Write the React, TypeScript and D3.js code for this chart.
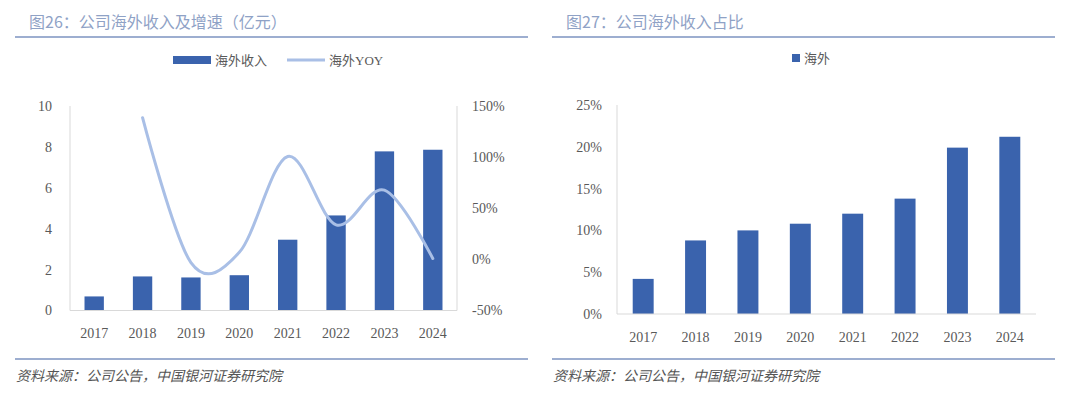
import React from 'react'
import * as d3 from 'd3'

// data
const years = ['2017', '2018', '2019', '2020', '2021', '2022', '2023', '2024']
const overseasRevenue = [0.69, 1.67, 1.62, 1.73, 3.47, 4.66, 7.8, 7.88]
const overseasYoy = [null, 139, -3, 7, 101, 34, 68, 1]
const overseasShare = [4.2, 8.8, 10.0, 10.8, 12.0, 13.8, 19.9, 21.2]
const leftTicks = [0, 2, 4, 6, 8, 10]
const rightTicks = [-50, 0, 50, 100, 150]
const shareTicks = [0, 5, 10, 15, 20, 25]

const BAR = '#3A63AD'
const LINE = '#A9BFE6'
const AXIS = '#D9D9D9'
const TEXT = '#595959'
const TITLE = '#8FA2C6'
const RULE = '#7D93C0'
const FONT = '"Liberation Serif", "Noto Sans CJK SC", serif'
const CJK = '"Noto Sans CJK SC", sans-serif'

const Frame = ({x0, x1, title}: {x0: number, x1: number, title: string}) => (
  <g>
    <text x={x0 + 14} y={28} fontFamily={CJK} fontSize={16} fill={TITLE}>{title}</text>
    <line x1={x0} x2={x1} y1={37} y2={37} stroke={RULE} strokeWidth={1.5} />
    <line x1={x0} x2={x1} y1={359} y2={359} stroke={RULE} strokeWidth={1.5} />
    <text x={x0 + 1} y={381} fontFamily={CJK} fontSize={14} fontStyle="italic" fill="#555">
      资料来源：公司公告，中国银河证券研究院
    </text>
  </g>
)

const RevenueChart = () => {
  const x = d3.scaleBand().domain(years).range([70, 457]).paddingInner(0.6).paddingOuter(0.3)
  const y = d3.scaleLinear().domain([0, 10]).range([310.5, 106.5])
  const y2 = d3.scaleLinear().domain([-50, 150]).range([310.5, 106.5])
  const pts = years.map((yr, i) => ({yr, v: overseasYoy[i]})).filter(d => d.v !== null) as {yr: string, v: number}[]
  // excel-like smoothed line
  const line = d3.line<{yr: string, v: number}>()
    .x(d => (x(d.yr) as number) + x.bandwidth() / 2)
    .y(d => y2(d.v))
    .curve(d3.curveCardinal.tension(0))

  return (
    <g>
      <Frame x0={15} x1={528} title="图26：公司海外收入及增速（亿元）" />
      {/* legend */}
      <rect x={173} y={56} width={38} height={8} fill={BAR} />
      <text x={215} y={65} fontFamily={CJK} fontSize={13} fill={TEXT}>海外收入</text>
      <line x1={287} x2={325} y1={60} y2={60} stroke={LINE} strokeWidth={3} />
      <text x={329} y={65} fontFamily={FONT} fontSize={13} fill={TEXT}>海外YOY</text>

      <line x1={70} x2={70} y1={106} y2={310.5} stroke={AXIS} />
      <line x1={457} x2={457} y1={106} y2={310.5} stroke={AXIS} />
      {overseasRevenue.map((v, i) => (
        <rect key={years[i]} x={x(years[i])} y={y(v)} width={x.bandwidth()} height={y(0) - y(v)} fill={BAR} />
      ))}
      <line x1={70} x2={457} y1={310.5} y2={310.5} stroke={AXIS} />
      <path d={line(pts) || ''} fill="none" stroke={LINE} strokeWidth={3} strokeLinecap="round" />

      {leftTicks.map(t => (
        <text key={t} x={52} y={y(t)} dy="0.35em" textAnchor="end" fontFamily={FONT} fontSize={14} fill={TEXT}>{t}</text>
      ))}
      {rightTicks.map(t => (
        <text key={t} x={472} y={y2(t)} dy="0.35em" fontFamily={FONT} fontSize={14} fill={TEXT}>{t}%</text>
      ))}
      {years.map(yr => (
        <text key={yr} x={(x(yr) as number) + x.bandwidth() / 2} y={338} textAnchor="middle" fontFamily={FONT} fontSize={14} fill={TEXT}>{yr}</text>
      ))}
    </g>
  )
}

const ShareChart = () => {
  const x = d3.scaleBand().domain(years).range([617, 1036]).paddingInner(0.6).paddingOuter(0.3)
  const y = d3.scaleLinear().domain([0, 25]).range([314, 105])

  return (
    <g>
      <Frame x0={552} x1={1055} title="图27：公司海外收入占比" />
      <rect x={792} y={54} width={8} height={8} fill={BAR} />
      <text x={804} y={63} fontFamily={CJK} fontSize={13} fill={TEXT}>海外</text>

      <line x1={617} x2={617} y1={105} y2={314} stroke={AXIS} />
      {overseasShare.map((v, i) => (
        <rect key={years[i]} x={x(years[i])} y={y(v)} width={x.bandwidth()} height={y(0) - y(v)} fill={BAR} />
      ))}
      <line x1={617} x2={1036} y1={314} y2={314} stroke={AXIS} />

      {shareTicks.map(t => (
        <text key={t} x={602} y={y(t)} dy="0.35em" textAnchor="end" fontFamily={FONT} fontSize={14} fill={TEXT}>{t}%</text>
      ))}
      {years.map(yr => (
        <text key={yr} x={(x(yr) as number) + x.bandwidth() / 2} y={342} textAnchor="middle" fontFamily={FONT} fontSize={14} fill={TEXT}>{yr}</text>
      ))}
    </g>
  )
}

export default function App() {
  return (
    <svg width={1080} height={397} style={{position: 'absolute', left: 0, top: 0, background: '#fff'}}>
      <RevenueChart />
      <ShareChart />
    </svg>
  )
}
